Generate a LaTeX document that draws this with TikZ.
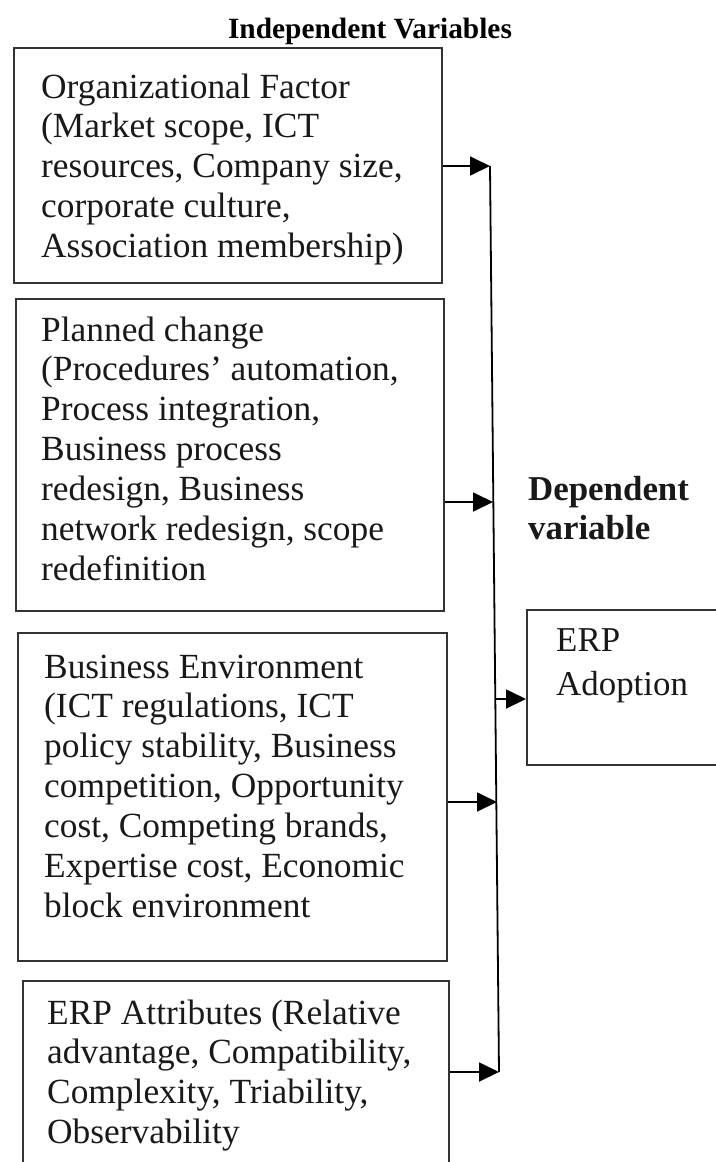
\documentclass[tikz,border=0pt]{standalone}
\usepackage{fontspec}
\setmainfont{Liberation Serif}
\usetikzlibrary{arrows.meta}
\definecolor{boxline}{gray}{0.2}
\definecolor{inktext}{gray}{0.1}
\tikzset{
  boxframe/.style={draw=boxline, line width=1.8bp, inner sep=0pt, anchor=north west},
  boxtext/.style={anchor=north west, inner sep=0pt, align=left, text=inktext, font=\fontsize{35.5}{40}\selectfont},
  link/.style={draw=black, line width=1.8bp},
  arr/.style={link, -{Triangle[length=20bp,width=19bp]}},
}
\begin{document}
\begin{tikzpicture}[x=1bp,y=-1bp]
\useasboundingbox (0,0) rectangle (716,1162);
\node[anchor=base, inner sep=0pt, font=\bfseries\fontsize{29.5}{31}\selectfont] (title) at (370,38) {Independent Variables};

\node[boxframe, minimum width=428bp, minimum height=235bp] (b1) at (13,47) {};
\node[boxframe, minimum width=428bp, minimum height=312bp] (b2) at (15,298) {};
\node[boxframe, minimum width=429bp, minimum height=328bp] (b3) at (17,632) {};
\node[boxframe, minimum width=426bp, minimum height=200bp] (b4) at (22,980) {};
\node[boxframe, minimum width=200bp, minimum height=155bp] (erp) at (526,609) {};

\node[boxtext] (t1) at (41,70) {\strut Organizational Factor\\(Market scope, ICT\\resources, Company size,\\corporate culture,\\Association membership)};
\node[boxtext] (t2) at (41,313) {\strut Planned change\\(Procedures’ automation,\\Process integration,\\Business process\\redesign, Business\\network redesign, scope\\redefinition};
\node[boxtext] (t3) at (44,650) {\strut Business Environment\\(ICT regulations, ICT\\policy stability, Business\\competition, Opportunity\\cost, Competing brands,\\Expertise cost, Economic\\block environment};
\node[boxtext] (t4) at (47,996) {\strut ERP Attributes (Relative\\advantage, Compatibility,\\Complexity, Triability,\\Observability};
\node[boxtext, font=\fontsize{35}{44}\selectfont] (t5) at (556,621) {\strut ERP\\Adoption};
\node[boxtext, font=\bfseries\fontsize{35}{40}\selectfont] (dep) at (528,472) {\strut Dependent\\variable};

\coordinate (j1) at (490,166);
\coordinate (j2) at (493,502);
\coordinate (j3) at (496,699);
\coordinate (jb) at (497,802);
\coordinate (j4) at (499,1072);

\draw[link] (j1) -- (j4);
\draw[arr] (b1.east |- j1) -- (j1);
\draw[arr] (b2.east |- j2) -- (j2);
\draw[arr] (b3.east |- jb) -- (jb);
\draw[arr] (b4.east |- j4) -- (j4);
\draw[arr] (j3) -- (erp.west |- j3);
\end{tikzpicture}
\end{document}
